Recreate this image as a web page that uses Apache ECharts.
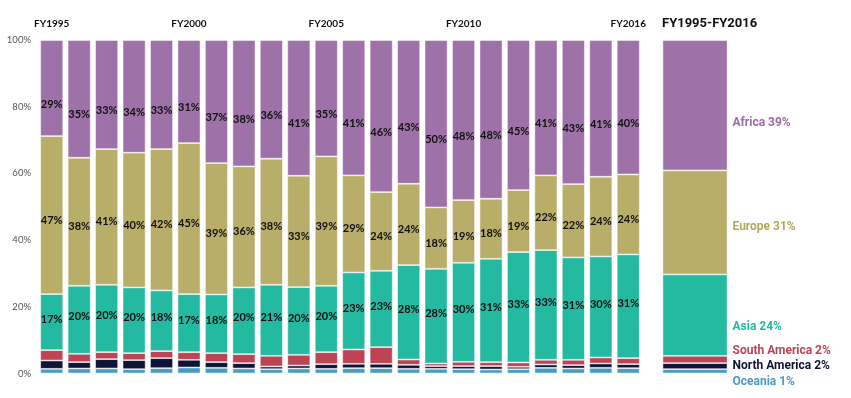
<!DOCTYPE html>
<html>
<head>
<meta charset="utf-8">
<script src="https://cdn.jsdelivr.net/npm/echarts@6/dist/echarts.min.js"></script>
<style>
  html, body { margin: 0; padding: 0; background: #fff; }
  #chart { width: 851px; height: 398px; }
</style>
</head>
<body>
<div id="chart"></div>
<script>
// 各年度地域別シェア (%)
const years = ['FY1995', 'FY1996', 'FY1997', 'FY1998', 'FY1999', 'FY2000', 'FY2001', 'FY2002',
  'FY2003', 'FY2004', 'FY2005', 'FY2006', 'FY2007', 'FY2008', 'FY2009', 'FY2010',
  'FY2011', 'FY2012', 'FY2013', 'FY2014', 'FY2015', 'FY2016']
const shownYears = ['FY1995', 'FY2000', 'FY2005', 'FY2010', 'FY2016']

const oceania      = [1.4, 1.5, 1.5, 1.3, 1.6, 1.8, 1.7, 1.5, 1.3, 1.5, 1.4, 1.6, 1.6, 1.4, 1.4, 1.3, 1.2, 1.3, 1.7, 1.5, 1.7, 1.6]
const northAmerica = [2.5, 1.9, 2.8, 2.7, 3.0, 2.3, 1.7, 1.6, 0.8, 0.9, 1.4, 1.3, 1.3, 1.2, 0.8, 0.9, 1.0, 0.7, 1.0, 1.0, 1.3, 1.2]
const southAmerica = [3.1, 2.5, 2.1, 2.1, 2.1, 2.3, 2.7, 2.7, 3.2, 3.2, 3.6, 4.3, 5.0, 1.6, 0.8, 1.3, 1.2, 1.3, 1.4, 1.6, 1.8, 1.8]
const asia         = [16.8, 20.4, 20.2, 19.7, 18.2, 17.4, 17.6, 20.0, 21.3, 20.3, 19.9, 23.1, 22.9, 28.3, 28.4, 29.7, 31.0, 33.1, 32.9, 30.7, 30.3, 31.1]
const europe       = [47.4, 38.4, 40.7, 40.4, 42.4, 45.3, 39.4, 36.3, 37.8, 33.4, 38.8, 29.1, 23.6, 24.4, 18.4, 18.8, 18.0, 18.6, 22.4, 22.0, 23.9, 24.0]
const africa       = [28.8, 35.3, 32.7, 33.8, 32.7, 30.9, 36.9, 37.9, 35.6, 40.7, 34.9, 40.6, 45.6, 43.1, 50.2, 48.0, 47.6, 45.0, 40.6, 43.2, 41.0, 40.3]

// 期間合計
const totalLabel = 'FY1995-FY2016'
const regions = ['Oceania', 'North America', 'South America', 'Asia', 'Europe', 'Africa']
const totalShares = [1.3, 1.8, 2.2, 24.4, 31.2, 39.1]

const yearShares = [oceania, northAmerica, southAmerica, asia, europe, africa]
const colors = ['#4a9bc4', '#0d1437', '#bd4452', '#24b9a1', '#b8ad69', '#9e72a9']
const textColors = ['#4a9bc4', '#0d1437', '#bd4452', '#24b9a1', '#b3a860', '#9e6aa8']
const innerOffset = [0, 0, 0, -3, 5, 16]
const totalOffset = [11, 0, -8, 12, 5, 18]

const baseFont = 'Lato, "Open Sans", sans-serif'
const sideFont = 'Roboto, "Open Sans", sans-serif'

const series = []
regions.forEach((name, i) => {
  series.push({
    type: 'bar',
    name: name,
    stack: 'years',
    xAxisIndex: 0,
    yAxisIndex: 0,
    barWidth: 23,
    data: yearShares[i],
    itemStyle: { color: colors[i], borderColor: 'rgba(255,255,255,0.65)', borderWidth: 0.8 },
    label: {
      show: i >= 3,
      position: 'inside',
      offset: [0, innerOffset[i]],
      formatter: p => Math.round(p.value) + '%',
      color: '#111',
      fontSize: 11,
      fontWeight: 'bold',
      fontFamily: baseFont
    }
  })
  series.push({
    type: 'bar',
    name: name,
    stack: 'total',
    xAxisIndex: 1,
    yAxisIndex: 1,
    barWidth: 65,
    data: [totalShares[i]],
    itemStyle: { color: colors[i], borderColor: 'rgba(255,255,255,0.65)', borderWidth: 0.8 },
    label: {
      show: true,
      position: 'right',
      distance: 5,
      offset: [0, totalOffset[i]],
      formatter: p => name + ' ' + Math.round(p.value) + '%',
      color: textColors[i],
      fontSize: 12,
      fontWeight: 'bold',
      fontFamily: sideFont
    }
  })
})

const option = {
  animation: false,
  title: {
    text: totalLabel,
    left: 657,
    top: 12,
    textStyle: { fontSize: 13, fontWeight: 'bold', color: '#111', fontFamily: sideFont }
  },
  grid: [
    { left: 38, width: 604, top: 40, bottom: 24.5 },
    { left: 662, width: 66, top: 40, bottom: 24.5 }
  ],
  xAxis: [
    {
      type: 'category',
      gridIndex: 0,
      position: 'top',
      data: years,
      axisLine: { show: false },
      axisTick: { show: false },
      axisLabel: {
        interval: (idx, val) => shownYears.includes(val),
        margin: 11,
        color: '#111',
        fontSize: 10,
        fontWeight: 'bold',
        fontFamily: baseFont
      }
    },
    {
      type: 'category',
      gridIndex: 1,
      data: [totalLabel],
      show: false
    }
  ],
  yAxis: [
    {
      type: 'value',
      gridIndex: 0,
      min: 0,
      max: 100,
      interval: 20,
      axisLine: { show: false },
      axisTick: { show: false },
      splitLine: { show: false },
      axisLabel: {
        formatter: '{value}%',
        margin: 7,
        color: '#555',
        fontSize: 9.5,
        fontFamily: baseFont
      }
    },
    {
      type: 'value',
      gridIndex: 1,
      min: 0,
      max: 100,
      show: false
    }
  ],
  series
}

const chart = echarts.init(document.getElementById('chart'))
chart.setOption(option)
</script>
</body>
</html>
